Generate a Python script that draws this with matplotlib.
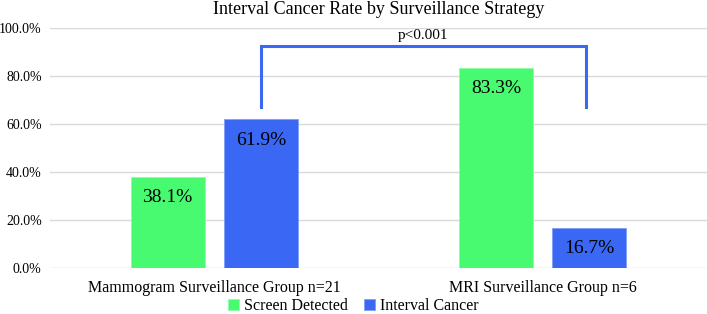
import numpy as np
import matplotlib.pyplot as plt
from matplotlib.ticker import PercentFormatter

plt.rcParams['font.family'] = ['Liberation Serif', 'DejaVu Serif']

# Data
groups = ["Mammogram Surveillance Group n=21", "MRI Surveillance Group n=6"]
screen_detected = [38.1, 83.3]
interval_cancer = [61.9, 16.7]
series_names = ["Screen Detected", "Interval Cancer"]
p_text = "p<0.001"

green = "#47FA6F"
blue = "#3A68F5"

fig = plt.figure(figsize=(7.07, 3.14), dpi=100)
ax = fig.add_axes([50 / 707, 46 / 314, 657 / 707, 240 / 314])

x = np.arange(len(groups))
w = 0.225
off = 0.142
b1 = ax.bar(x - off, screen_detected, w, color=green, edgecolor="#8ffba6", linewidth=0.6,
            label=series_names[0], zorder=3)
b2 = ax.bar(x + off, interval_cancer, w, color=blue, edgecolor="#7f9ff7", linewidth=0.6,
            label=series_names[1], zorder=3)

# Value labels inside the top of each bar
for bars, vals in [(b1, screen_detected), (b2, interval_cancer)]:
    for rect, v in zip(bars, vals):
        ax.annotate(f"{v:.1f}%", (rect.get_x() + rect.get_width() / 2, v),
                    xytext=(0, -15), textcoords="offset points",
                    ha="center", va="center", fontsize=14, zorder=4)

# Significance bracket between interval cancer bars
bx = [x[0] + off, x[0] + off, x[1] + off - 0.01, x[1] + off - 0.01]
by = [67, 92.5, 92.5, 67]
ax.plot(bx, by, color=blue, lw=2.2, solid_joinstyle="miter", zorder=4)
ax.text((bx[0] + bx[2]) / 2, 94, p_text, ha="center", va="bottom", fontsize=11)

ax.set_ylim(0, 100)
ax.set_xlim(-0.5, 1.5)
ax.set_yticks(np.arange(0, 101, 20))
ax.yaxis.set_major_formatter(PercentFormatter(decimals=1))
ax.set_xticks(x)
ax.set_xticklabels(groups, fontsize=11.5)
ax.tick_params(axis="y", labelsize=10, length=0, pad=6)
ax.tick_params(axis="x", length=0, pad=9)
ax.grid(axis="y", color="#d9d9d9", lw=1, zorder=0)
for s in ax.spines.values():
    s.set_visible(False)

ax.set_title("Interval Cancer Rate by Surveillance Strategy", fontsize=13, pad=10)

fig.legend(handles=[b1, b2], labels=series_names, loc="lower center",
           bbox_to_anchor=(0.5, -0.045), ncol=2, frameon=False,
           prop={"family": ["Liberation Serif"], "size": 11.5},
           handlelength=0.7, handleheight=0.7, handletextpad=0.3, columnspacing=1.0)

fig.savefig("out.png", dpi=100)
